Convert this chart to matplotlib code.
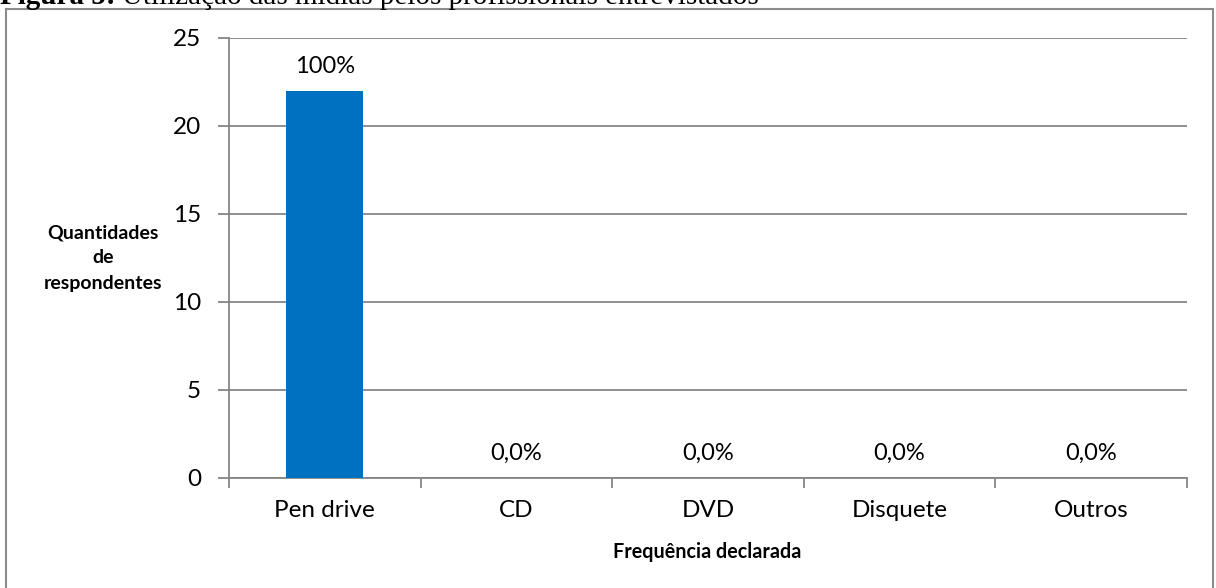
import matplotlib
matplotlib.use("Agg")
import matplotlib.pyplot as plt
from matplotlib.patches import Rectangle

# survey answers: which media the interviewees use
categories = ["Pen drive", "CD", "DVD", "Disquete", "Outros"]
counts = [22, 0, 0, 0, 0]
yticks = [0, 5, 10, 15, 20, 25]

W, H = 1216, 588
plt.rcParams["font.family"] = ["Lato", "DejaVu Sans"]
grey = "#868686"

fig = plt.figure(figsize=(W / 100, H / 100), dpi=100)

# plot area in pixel coordinates
x0, x1, ytop, ybot = 229, 1187, 38, 478
ax = fig.add_axes([x0 / W, 1 - ybot / H, (x1 - x0) / W, (ybot - ytop) / H])

xs = range(len(categories))
ax.bar(xs, counts, width=0.40, color="#0070C0", zorder=3)

total = sum(counts)
for x, v in zip(xs, counts):
    pct = v / total * 100
    lab = "100%" if pct == 100 else f"{pct:.1f}%".replace(".", ",")
    ax.annotate(lab, (x, v), xytext=(0, 13), textcoords="offset points",
                ha="center", va="baseline", fontsize=17)

ax.set_xlim(-0.5, len(categories) - 0.5)
ax.set_ylim(0, 25)
ax.set_yticks(yticks)
ax.yaxis.grid(True, color=grey, lw=1.3, zorder=0)
ax.set_axisbelow(True)

# category boundaries carry the tick marks, centres carry the names
ax.set_xticks([i - 0.5 for i in range(len(categories) + 1)])
ax.set_xticklabels([])
ax.set_xticks(list(xs), minor=True)
ax.set_xticklabels(categories, minor=True, fontsize=17.5)
ax.tick_params(axis="x", which="major", direction="out", length=7, width=1.3, color=grey)
ax.tick_params(axis="x", which="minor", length=0, pad=16)
ax.tick_params(axis="y", direction="out", length=8, width=1.3, color=grey,
               labelsize=17.5, pad=12)

for s in ("top", "right"):
    ax.spines[s].set_visible(False)
for s in ("left", "bottom"):
    ax.spines[s].set_color(grey)
    ax.spines[s].set_linewidth(1.3)

fig.text(707 / W, 1 - 552 / H, "Frequência declarada", ha="center", va="center",
         fontsize=14.2, fontweight="bold")
fig.text(103 / W, 1 - 258 / H, "Quantidades\nde\nrespondentes", ha="center",
         va="center", fontsize=14, fontweight="bold", linespacing=1.6)

# frame around the chart
fig.patches.append(Rectangle((6 / W, -0.02), 1207 / W, 1 - 9 / H + 0.02,
                             transform=fig.transFigure, fill=False,
                             edgecolor="#8c8c8c", lw=1.5))

# caption above the frame, mostly cropped by the page edge
cap_y = 1 - 4 / H
cap1 = fig.text(0 / W, cap_y, "Figura 5:", family="Liberation Serif",
                fontweight="bold", fontsize=21, va="baseline")
fig.canvas.draw()
bb = cap1.get_window_extent()
fig.text((bb.x1 + 6) / W, cap_y,
         "Utilização das mídias pelos profissionais entrevistados",
         family="Liberation Serif", fontsize=21, va="baseline")

fig.savefig("out.png", dpi=100)
